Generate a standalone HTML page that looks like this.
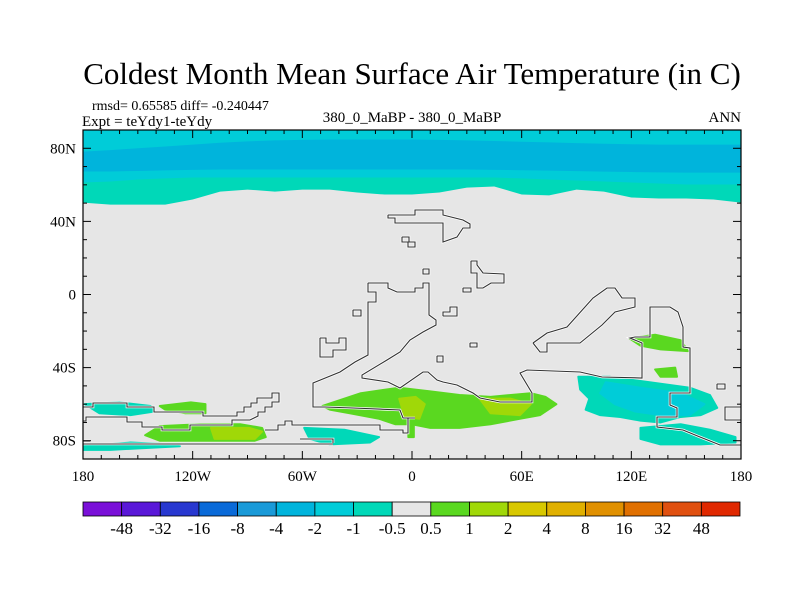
<!DOCTYPE html>
<html><head><meta charset="utf-8"><style>
body{margin:0;background:#fff;}
svg text{font-family:"Liberation Serif",serif;fill:#000;}
</style></head><body>
<svg id="chart" width="800" height="600" xmlns="http://www.w3.org/2000/svg">
<rect width="800" height="600" fill="#fff"/>
<text x="412" y="84" font-size="31" text-anchor="middle">Coldest Month Mean Surface Air Temperature (in C)</text>
<text x="92" y="110" font-size="14">rmsd= 0.65585 diff= -0.240447</text>
<text x="82" y="126" font-size="15">Expt = teYdy1-teYdy</text>
<text x="412" y="122" font-size="15" text-anchor="middle">380_0_MaBP - 380_0_MaBP</text>
<text x="741" y="122" font-size="15" text-anchor="end">ANN</text>
<clipPath id="clip"><rect x="83" y="130" width="658" height="329"/></clipPath>
<g id="map" clip-path="url(#clip)"></g>
<g id="outlines" clip-path="url(#clip)"></g>
<g id="axes"></g>
<g id="cbar"></g>
</svg>
<script>
const lonGrid=[-180,-165,-150,-135,-120,-105,-90,-75,-60,-45,-30,-15,0,15,30,45,60,75,90,105,120,135,150,165,180];
const grayEdgeLat=[50.3,49.2,49.2,49.2,52.0,56.3,57.4,56.3,57.4,57.4,55.8,54.7,54.7,55.8,58.5,59.1,54.7,54.2,57.4,56.3,53.1,52.5,52.5,52.0,50.3];
const greenTopLat=[61.3,61.8,62.9,63.5,64.0,64.0,64.0,64.0,64.0,64.0,64.0,64.0,64.0,64.0,64.0,64.0,63.5,62.9,62.4,61.8,61.3,60.7,60.2,60.2,60.2];
const blueBottomLat=[67.3,67.3,67.6,67.9,68.2,68.4,68.4,68.4,68.4,68.4,68.4,68.4,68.4,68.4,68.4,68.2,68.0,67.8,67.5,67.2,67.0,66.8,66.7,66.7,66.7];
const blueTopLat=[78.2,79.0,80.0,81.0,82.0,83.0,83.8,84.3,84.6,84.8,84.8,84.8,84.8,84.6,84.3,84.0,83.6,83.2,82.8,82.5,82.2,82.0,82.0,82.0,82.0];
const levels=[-48,-32,-16,-8,-4,-2,-1,-0.5,0.5,1,2,4,8,16,32,48];
const colors=["#7a10d8","#5a18d8","#2838d0","#0a6ad8","#1a9ad8","#00b4dc","#00ccd8","#00d8b8","#e6e6e6","#5ad820","#a0d808","#d8c800","#e0b000","#e09000","#e07000","#e05010","#e02800"];
// blobs: [colorIndex, [[lon,lat],...]]
const blobs=[
[9,[[-49,-61],[-28,-54],[-7,-51],[10,-53],[26,-55],[43,-56],[65,-54],[73,-56],[79,-60],[70,-66],[59,-68],[43,-71],[26,-73],[10,-73],[0,-71],[-9,-71],[-18,-68],[-34,-65],[-45,-63]]],
[10,[[-7,-57],[2,-56],[7,-60],[4,-68],[-4,-67]]],
[10,[[37,-57],[54,-57],[65,-60],[59,-66],[43,-65]]],
[9,[[-2,-68],[1,-68],[1,-78],[-2,-78]]],
[9,[[119,-24],[133,-22],[147,-25],[151,-31],[136,-30],[125,-28]]],
[9,[[133,-41],[144,-40],[145,-45],[136,-45]]],
[7,[[91,-45],[108,-45],[130,-48],[152,-51],[163,-55],[167,-62],[158,-66],[147,-67],[136,-70],[125,-69],[114,-67],[103,-66],[95,-63],[97,-57],[92,-52]]],
[6,[[106,-48],[125,-51],[147,-54],[160,-60],[152,-66],[136,-66],[122,-64],[111,-60],[103,-54]]],
[7,[[125,-73],[147,-71],[163,-74],[177,-78],[177,-81],[158,-82],[136,-82],[125,-79]]],
[7,[[-59,-73],[-37,-74],[-18,-78],[-23,-81],[-45,-82],[-56,-79]]],
[7,[[-179,-60],[-160,-59],[-143,-61],[-141,-64],[-154,-66],[-171,-65]]],
[9,[[-138,-61],[-121,-59],[-113,-60],[-113,-65],[-124,-65],[-135,-63]]],
[9,[[-146,-77],[-138,-72],[-116,-71],[-94,-71],[-82,-73],[-80,-78],[-86,-80],[-116,-80],[-138,-80]]],
[10,[[-110,-73],[-89,-73],[-82,-75],[-86,-79],[-108,-79]]],
[7,[[-180,-83],[-154,-81],[-132,-82],[-127,-83],[-165,-85],[-180,-85]]]
];
const NS="http://www.w3.org/2000/svg";
const X=lon=>83+(lon+180)*658/360;
const Y=lat=>294.5-lat*329/180;
function mk(tag,attrs,parent){const e=document.createElementNS(NS,tag);for(const k in attrs)e.setAttribute(k,attrs[k]);parent.appendChild(e);return e;}
const map=document.getElementById('map');
mk('rect',{x:83,y:130,width:658,height:329,fill:colors[8]},map);
function band(topArr,botArr,col,name){
  let d='M'+lonGrid.map((l,i)=>X(l)+','+Y(topArr[i])).join(' L');
  for(let i=lonGrid.length-1;i>=0;i--)d+=' L'+X(lonGrid[i])+','+Y(botArr[i]);
  const p=mk('path',{d:d+'Z',fill:col},map);
  
  
}
const top90=lonGrid.map(()=>90);
band(top90,grayEdgeLat,colors[7],'band-minus1');
band(top90,greenTopLat,colors[6],'band-minus2');
band(blueTopLat,blueBottomLat,colors[5],'band-minus4');
blobs.forEach((b,i)=>{
  const p=mk('polygon',{points:b[1].map(q=>X(q[0])+','+Y(q[1])).join(' '),fill:colors[b[0]],'stroke':colors[b[0]],'stroke-width':2,'stroke-linejoin':'round'},map);
  
  
});
// coastline outlines (pixel space, decorative)
const outlines=[
[[368,283],[388,283],[388,288],[397,292],[415,292],[415,288],[423,288],[423,283],[429,283],[429,315],[436,320],[436,325],[423,332],[410,340],[400,352],[387,360],[362,375],[362,378],[388,382],[400,388],[423,372],[428,372],[437,380],[443,382],[457,385],[473,393],[480,398],[500,402],[532,402],[532,393],[520,373],[527,370],[580,372],[602,377],[642,378],[642,343],[630,338],[635,337],[650,337],[650,307],[670,307],[678,312],[683,327],[683,347],[690,348],[690,393],[670,393],[670,405],[677,408],[677,417],[657,417],[657,427],[683,430],[700,437],[720,445],[742,445]],
[[368,283],[368,292],[376,292],[376,302],[368,302],[368,355],[355,362],[340,372],[313,383],[313,407],[325,407],[353,408],[400,410],[403,418],[415,418]],
[[388,215],[415,215],[415,210],[443,210],[443,215],[463,220],[470,224],[470,228],[463,228],[457,237],[443,242],[443,223],[395,223],[395,218],[388,218],[388,215]],
[[402,237],[409,237],[409,242],[415,242],[415,247],[408,247],[408,242],[402,242],[402,237]],
[[423,269],[429,269],[429,274],[423,274],[423,269]],
[[353,310],[361,310],[361,316],[353,316],[353,310]],
[[470,343],[477,343],[477,347],[470,347],[470,343]],
[[437,356],[443,356],[443,362],[437,362],[437,356]],
[[463,288],[471,288],[471,292],[463,292],[463,288]],
[[443,316],[443,312],[450,312],[450,307],[457,307],[457,316],[443,316]],
[[717,384],[725,384],[725,389],[717,389],[717,384]],
[[471,261],[477,261],[477,265],[483,273],[504,274],[504,283],[491,283],[483,288],[477,288],[477,273],[471,273],[471,261]],
[[320,338],[326,338],[326,343],[339,343],[339,338],[346,338],[346,350],[333,350],[333,357],[320,357],[320,338]],
[[533,343],[540,352],[547,352],[547,343],[580,343],[602,325],[615,312],[635,307],[635,298],[622,298],[615,288],[607,288],[593,298],[567,327],[547,333],[533,343]],
[[742,407],[725,407],[725,420],[742,420]],
[[83,407],[93,407],[93,403],[127,403],[127,407],[154,407],[154,412],[203,412],[203,416],[237,416],[237,412],[244,412],[244,407],[251,407],[251,403],[257,403],[257,398],[272,398],[272,393],[279,393],[279,402],[272,402],[272,407],[265,407],[265,412],[258,412],[258,416],[250,420],[232,420],[232,425],[190,425],[190,430],[162,430],[162,427],[142,427],[142,422],[127,422],[127,417],[86,417],[86,421],[83,421]],
[[83,444],[333,444]],[[83,441],[90,441]],
[[265,430],[278,430],[278,425],[285,425],[285,421],[292,421],[292,425],[300,425],[380,425],[380,430],[403,430],[403,433],[408,433],[408,418]],
[[300,439],[333,439],[333,443]],
[[320,459],[440,459]]
];
const og=document.getElementById('outlines');
outlines.forEach(o=>{
  const p=mk('polyline',{points:o.map(q=>q.join(',')).join(' '),fill:'none',stroke:'#fff',"stroke-width":2.6},og);
  
  
});
outlines.forEach(o=>{
  const p=mk('polyline',{points:o.map(q=>q.join(',')).join(' '),fill:'none',stroke:'#333',"stroke-width":1.1},og);
  
  
});
// axes
const ax=document.getElementById('axes');
const frame=mk('rect',{x:83,y:130,width:658,height:329,fill:'none',stroke:'#000','stroke-width':1.2},ax);


const xTickVals=[-180,-120,-60,0,60,120,180];
const xTickLabels=["180","120W","60W","0","60E","120E","180"];
const yTickVals=[80,40,0,-40,-80];
const yTickLabels=["80N","40N","0","40S","80S"];
for(let l=-180;l<=180;l+=10){
  const maj=l%60===0, len=maj?8:4;
  mk('line',{x1:X(l),x2:X(l),y1:459,y2:459-len,stroke:'#000'},ax);
  mk('line',{x1:X(l),x2:X(l),y1:130,y2:130+len,stroke:'#000'},ax);
}
for(let l=-90;l<=90;l+=10){
  const maj=l%40===0, len=maj?8:4;
  mk('line',{x1:83,x2:83+len,y1:Y(l),y2:Y(l),stroke:'#000'},ax);
  mk('line',{x1:741,x2:741-len,y1:Y(l),y2:Y(l),stroke:'#000'},ax);
}
xTickVals.forEach((v,i)=>{
  const t=mk('text',{x:X(v),y:481,'font-size':15,'text-anchor':'middle'},ax);
  t.textContent=xTickLabels[i];
  
  
});
yTickVals.forEach((v,i)=>{
  const t=mk('text',{x:76,y:Y(v)+5,'font-size':15,'text-anchor':'end'},ax);
  t.textContent=yTickLabels[i];
  
  
});
// colorbar
const cb=document.getElementById('cbar');
const bw=657/colors.length;
colors.forEach((c,i)=>{
  const r=mk('rect',{x:83+i*bw,y:502,width:bw,height:14,fill:c,stroke:'#000','stroke-width':0.8},cb);
  
  
});
levels.forEach((v,i)=>{
  const t=mk('text',{x:83+(i+1)*bw,y:534,'font-size':17,'text-anchor':'middle'},cb);
  t.textContent=String(v);
  
  
});
</script>
</body></html>
